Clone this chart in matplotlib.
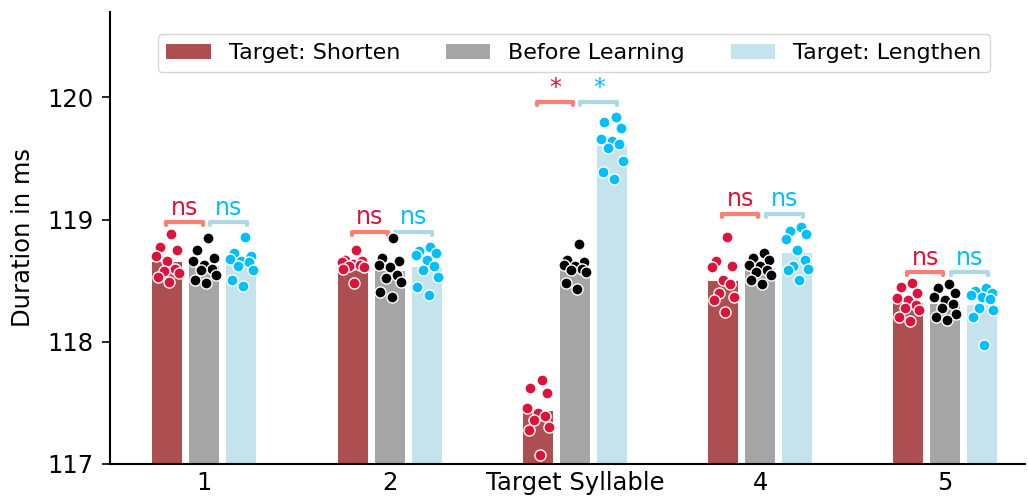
import matplotlib.pyplot as plt
import numpy as np

plt.rcParams["font.family"] = ["DejaVu Sans"]

# x 轴类别
categories = ["1", "2", "Target Syllable", "4", "5"]
hue_names = ["Target: Shorten", "Before Learning", "Target: Lengthen"]

# 柱高（均值）
bar_shorten = [118.65, 118.63, 117.43, 118.50, 118.32]
bar_before = [118.62, 118.58, 118.61, 118.60, 118.31]
bar_lengthen = [118.65, 118.61, 119.60, 118.73, 118.30]

# 每组散点
pts_shorten = [
    [118.88, 118.78, 118.75, 118.70, 118.66, 118.60, 118.58, 118.56, 118.53, 118.49],
    [118.75, 118.67, 118.66, 118.65, 118.64, 118.63, 118.62, 118.61, 118.60, 118.48],
    [117.69, 117.62, 117.58, 117.46, 117.42, 117.39, 117.36, 117.30, 117.28, 117.07],
    [118.86, 118.66, 118.62, 118.61, 118.51, 118.47, 118.40, 118.37, 118.34, 118.24],
    [118.48, 118.45, 118.40, 118.36, 118.34, 118.30, 118.28, 118.26, 118.20, 118.17],
]
pts_before = [
    [118.85, 118.75, 118.69, 118.66, 118.63, 118.60, 118.59, 118.55, 118.51, 118.48],
    [118.85, 118.69, 118.66, 118.63, 118.61, 118.55, 118.52, 118.49, 118.41, 118.37],
    [118.80, 118.67, 118.65, 118.63, 118.62, 118.60, 118.59, 118.57, 118.48, 118.43],
    [118.73, 118.69, 118.67, 118.63, 118.62, 118.59, 118.57, 118.55, 118.51, 118.47],
    [118.47, 118.44, 118.40, 118.37, 118.34, 118.31, 118.28, 118.23, 118.20, 118.18],
]
pts_lengthen = [
    [118.86, 118.73, 118.70, 118.68, 118.66, 118.65, 118.62, 118.59, 118.51, 118.46],
    [118.78, 118.74, 118.73, 118.71, 118.67, 118.62, 118.59, 118.53, 118.45, 118.38],
    [119.84, 119.80, 119.75, 119.66, 119.64, 119.62, 119.59, 119.48, 119.39, 119.33],
    [118.94, 118.91, 118.88, 118.84, 118.75, 118.67, 118.62, 118.60, 118.59, 118.51],
    [118.44, 118.42, 118.40, 118.38, 118.37, 118.35, 118.28, 118.26, 118.20, 117.97],
]

# 显著性标注
sig_shorten = ["ns", "ns", "*", "ns", "ns"]
sig_lengthen = ["ns", "ns", "*", "ns", "ns"]
sig_y = [118.98, 118.90, 119.96, 119.05, 118.57]

bar_colors = ["#ad4f50", "#a5a5a5", "#c4e3ec"]
pt_colors = ["#dc143c", "black", "#00bfff"]
bracket_colors = ["#fa8072", "#add8e6"]

jitter = [0.02, -0.04, 0.05, -0.06, 0.0, 0.04, -0.02, 0.06, -0.05, 0.01]

fig = plt.figure(figsize=(10.28, 4.97), dpi=100)
ax = fig.add_axes([0.107, 0.0664, 0.89, 0.9096])

x = np.arange(len(categories))
offsets = [-0.2, 0.0, 0.2]
width = 0.162

for bars, pts, off, bc, pc, name in zip([bar_shorten, bar_before, bar_lengthen],
                                        [pts_shorten, pts_before, pts_lengthen],
                                        offsets, bar_colors, pt_colors, hue_names):
    ax.bar(x + off, np.array(bars) - 117, width=width, bottom=117, color=bc, label=name, zorder=1)
    for i, vals in enumerate(pts):
        xs = x[i] + off + np.array(jitter[:len(vals)])
        ax.scatter(xs, vals, s=64, color=pc, edgecolor="white", linewidth=1, zorder=3)

# 显著性括号
h = 0.025
for i in range(len(categories)):
    y = sig_y[i]
    for (x1, x2), lab, bcol, tcol in [((-0.205, -0.01), sig_shorten[i], bracket_colors[0], pt_colors[0]),
                                      ((0.03, 0.23), sig_lengthen[i], bracket_colors[1], pt_colors[2])]:
        ax.plot([x[i] + x1, x[i] + x1, x[i] + x2, x[i] + x2], [y - h, y, y, y - h],
                color=bcol, linewidth=3, solid_capstyle="round", zorder=2)
        ax.text(x[i] + (x1 + x2) / 2, y + 0.02, lab, ha="center", va="bottom",
                color=tcol, fontsize=17)

ax.set_xlim(-0.51, 4.43)
ax.set_ylim(117, 120.70)
ax.set_xticks(x)
ax.set_xticklabels(categories, fontsize=17.5)
ax.set_yticks([117, 118, 119, 120])
ax.tick_params(axis="y", labelsize=17.5, length=6, width=1.2, pad=6)
ax.tick_params(axis="x", length=0, pad=5)
ax.set_ylabel("Duration in ms", fontsize=17.5, labelpad=9)
for s in ["top", "right"]:
    ax.spines[s].set_visible(False)
for s in ["left", "bottom"]:
    ax.spines[s].set_linewidth(1.5)

ax.legend(loc="upper center", bbox_to_anchor=(0.507, 0.975), ncol=3, fontsize=16,
          handlelength=2.0, handletextpad=0.8, columnspacing=2.07, frameon=True)

plt.savefig("out.png", dpi=100)
plt.close()
